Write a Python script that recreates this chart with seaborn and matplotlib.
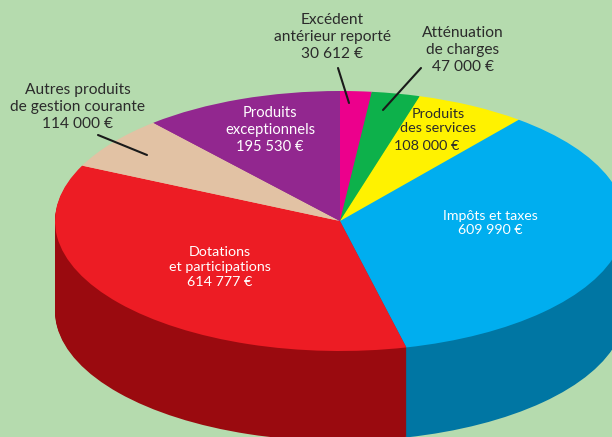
import matplotlib
matplotlib.use('Agg')
import matplotlib.pyplot as plt
import seaborn as sns

# budget data, clockwise from the top
names = ['Excédent\nantérieur reporté', 'Atténuation\nde charges', 'Produits\ndes services',
         'Impôts et taxes', 'Dotations\net participations',
         'Autres produits\nde gestion courante', 'Produits\nexceptionnels']
amounts = ['30 612 €', '47 000 €', '108 000 €', '609 990 €', '614 777 €', '114 000 €', '195 530 €']
values = [30612, 47000, 108000, 609990, 614777, 114000, 195530]
top_colors = ['#EC008C', '#0DB14B', '#FFF200', '#00AEEF', '#ED1C24', '#E2C2A4', '#92278F']
side_colors = ['#EC008C', '#0DB14B', '#FFF200', '#0076A3', '#9A0A0F', '#E2C2A4', '#92278F']

sns.set_theme(style='white')
plt.rcParams['font.family'] = ['Lato', 'DejaVu Sans']

W, H = 612, 437
cx, cy = 340, 221
rx, ry = 285, 130
depth = 90

fig = plt.figure(figsize=(W / 100, H / 100), dpi=100, facecolor='#B5DBAE')
ax = fig.add_axes([0, 0, 1, 1])

# the side of the disc is the same pie stacked downwards
for d in range(depth, 0, -1):
    ax.pie(values, colors=sns.color_palette(side_colors), startangle=90, counterclock=False,
           center=(0, -d / ry), wedgeprops={'linewidth': 0})
ax.pie(values, colors=sns.color_palette(top_colors), startangle=90, counterclock=False,
       wedgeprops={'linewidth': 0})

ax.set_aspect('auto')
ax.set_xlim(-cx / rx, (W - cx) / rx)
ax.set_ylim((cy - H) / ry, cy / ry)
ax.axis('off')


def put(text, x, y, color, size):
    fig.text(x / W, 1 - y / H, text, color=color, fontsize=size, ha='center', va='center',
             linespacing=1.27)


dark = '#2B2B2B'
put(names[0] + '\n' + amounts[0], 332, 37, dark, 11.2)
put(names[1] + '\n' + amounts[1], 463, 50, dark, 11.2)
put(names[2], 438, 121, dark, 10.4)
put(amounts[2], 427, 146, dark, 10.4)
put(names[3] + '\n' + amounts[3], 490, 223, 'white', 10.2)
put(names[4] + '\n' + amounts[4], 220, 267, 'white', 10.3)
put(names[5] + '\n' + amounts[5], 78, 107, dark, 11.2)
put(names[6] + '\n' + amounts[6], 270, 130, 'white', 10.6)

# leader lines
for x0, y0, x1, y1 in [(338, 68, 349, 103), (421, 68, 383, 110), (98, 135, 147, 155)]:
    fig.add_artist(plt.Line2D([x0 / W, x1 / W], [1 - y0 / H, 1 - y1 / H], color='#1A1A1A', lw=1.5))

fig.savefig('out.png', dpi=100, facecolor=fig.get_facecolor())
